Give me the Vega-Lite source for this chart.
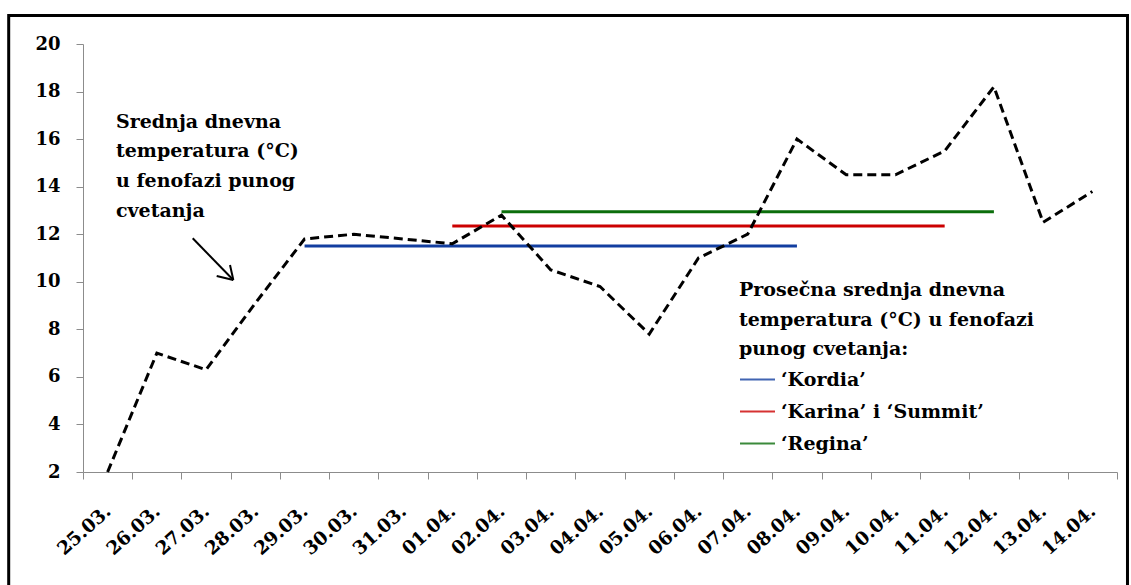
{
  "$schema": "https://vega.github.io/schema/vega-lite/v6.json",
  "width": 1034,
  "height": 428,
  "autosize": {"type": "none"},
  "padding": {"left": 83, "top": 44, "right": 14, "bottom": 113},
  "background": "white",
  "config": {"view": {"stroke": null}, "font": "DejaVu Serif"},
  "datasets": {
    "temp": [
      {"date": "25.03.", "t": 2.0},
      {"date": "26.03.", "t": 7.0},
      {"date": "27.03.", "t": 6.3},
      {"date": "28.03.", "t": 9.1},
      {"date": "29.03.", "t": 11.8},
      {"date": "30.03.", "t": 12.0},
      {"date": "31.03.", "t": 11.8},
      {"date": "01.04.", "t": 11.6},
      {"date": "02.04.", "t": 12.8},
      {"date": "03.04.", "t": 10.5},
      {"date": "04.04.", "t": 9.8},
      {"date": "05.04.", "t": 7.8},
      {"date": "06.04.", "t": 11.0},
      {"date": "07.04.", "t": 12.0},
      {"date": "08.04.", "t": 16.0},
      {"date": "09.04.", "t": 14.5},
      {"date": "10.04.", "t": 14.5},
      {"date": "11.04.", "t": 15.5},
      {"date": "12.04.", "t": 18.2},
      {"date": "13.04.", "t": 12.5},
      {"date": "14.04.", "t": 13.8}
    ],
    "avg": [
      {"cultivar": "‘Kordia’", "date": "29.03.", "value": 11.5},
      {"cultivar": "‘Kordia’", "date": "08.04.", "value": 11.5},
      {"cultivar": "‘Karina’ i ‘Summit’", "date": "01.04.", "value": 12.35},
      {"cultivar": "‘Karina’ i ‘Summit’", "date": "11.04.", "value": 12.35},
      {"cultivar": "‘Regina’", "date": "02.04.", "value": 12.95},
      {"cultivar": "‘Regina’", "date": "12.04.", "value": 12.95}
    ],
    "frame": [{"x": -1.509, "x2": 21.213, "y": 21.2, "y2": -3.5}],
    "arrow": [
      {"x": 2.228, "y": 11.829, "x2": 3.053, "y2": 10.075},
      {"x": 2.715, "y": 10.243, "x2": 3.053, "y2": 10.075},
      {"x": 2.986, "y": 10.706, "x2": 3.053, "y2": 10.075}
    ],
    "notes": [
      {"x": 0.67, "y": 16.48, "label": "Srednja dnevna\ntemperatura (°C)\nu fenofazi punog\ncvetanja"}
    ]
  },
  "layer": [
    {
      "layer": [
        {
          "data": {"name": "avg"},
          "mark": {"type": "line", "strokeWidth": 3},
          "encoding": {
            "x": {
              "field": "date",
              "type": "ordinal",
              "bandPosition": 0.5,
              "title": null,
              "scale": {
                "type": "band",
                "paddingInner": 0,
                "paddingOuter": 0,
                "domain": ["25.03.", "26.03.", "27.03.", "28.03.", "29.03.", "30.03.", "31.03.", "01.04.", "02.04.", "03.04.", "04.04.", "05.04.", "06.04.", "07.04.", "08.04.", "09.04.", "10.04.", "11.04.", "12.04.", "13.04.", "14.04."]
              },
              "axis": {
                "tickBand": "extent",
                "domainColor": "#8c8c8c",
                "tickColor": "#8c8c8c",
                "tickSize": 7,
                "labelAngle": -42,
                "labelAlign": "right",
                "labelBaseline": "middle",
                "labelPadding": 29,
                "labelFont": "DejaVu Serif",
                "labelFontSize": 18.5,
                "labelFontWeight": "bold",
                "labelColor": "black",
                "grid": false
              }
            },
            "y": {
              "field": "value",
              "type": "quantitative",
              "title": null,
              "scale": {"domain": [2, 20], "nice": false, "zero": false},
              "axis": {
                "values": [2, 4, 6, 8, 10, 12, 14, 16, 18, 20],
                "domainColor": "#8c8c8c",
                "tickColor": "#8c8c8c",
                "tickSize": 7,
                "labelPadding": 16,
                "labelFont": "DejaVu Serif",
                "labelFontSize": 18,
                "labelFontWeight": "bold",
                "labelColor": "black",
                "grid": false
              }
            },
            "color": {
              "field": "cultivar",
              "type": "nominal",
              "scale": {
                "domain": ["‘Kordia’", "‘Karina’ i ‘Summit’", "‘Regina’"],
                "range": ["#123ea0", "#cc0000", "#0b6e0b"]
              },
              "legend": {
                "orient": "none",
                "legendX": 656,
                "legendY": 237,
                "direction": "vertical",
                "padding": 0,
                "title": ["Prosečna  srednja dnevna", "temperatura (°C) u fenofazi", "punog cvetanja:"],
                "titleFont": "DejaVu Serif",
                "titleFontSize": 19,
                "titleFontWeight": "bold",
                "titleColor": "black",
                "titleLineHeight": 29.5,
                "titleLimit": 500,
                "titlePadding": 2,
                "titleAnchor": "start",
                "titleAlign": "left",
                "labelFont": "DejaVu Serif",
                "labelFontSize": 19,
                "labelFontWeight": "bold",
                "labelColor": "black",
                "labelLimit": 500,
                "labelOffset": 5,
                "symbolType": "stroke",
                "symbolSize": 1225,
                "symbolStrokeWidth": 2,
                "symbolOpacity": 0.8,
                "rowPadding": 3
              }
            }
          }
        },
        {
          "data": {"name": "temp"},
          "mark": {"type": "line", "color": "black", "strokeWidth": 3, "strokeDash": [9, 5]},
          "encoding": {
            "x": {"field": "date", "type": "ordinal", "bandPosition": 0.5},
            "y": {"field": "t", "type": "quantitative"},
            "order": {"value": null}
          }
        }
      ]
    },
    {
      "layer": [
        {
          "data": {"name": "frame"},
          "mark": {"type": "rect", "fillOpacity": 0, "stroke": "black", "strokeWidth": 3},
          "encoding": {
            "x": {"field": "x", "type": "quantitative", "scale": {"domain": [0, 21], "nice": false, "zero": false}, "axis": null},
            "x2": {"field": "x2"},
            "y": {"field": "y", "type": "quantitative", "scale": {"domain": [2, 20], "nice": false, "zero": false}, "axis": null},
            "y2": {"field": "y2"}
          }
        },
        {
          "data": {"name": "arrow"},
          "mark": {"type": "rule", "color": "black", "strokeWidth": 2},
          "encoding": {
            "x": {"field": "x", "type": "quantitative", "scale": {"domain": [0, 21], "nice": false, "zero": false}, "axis": null},
            "x2": {"field": "x2"},
            "y": {"field": "y", "type": "quantitative", "scale": {"domain": [2, 20], "nice": false, "zero": false}, "axis": null},
            "y2": {"field": "y2"}
          }
        },
        {
          "data": {"name": "notes"},
          "mark": {"type": "text", "align": "left", "baseline": "alphabetic", "font": "DejaVu Serif", "fontSize": 19, "fontWeight": "bold", "color": "black", "lineBreak": "\n", "lineHeight": 29.7},
          "encoding": {
            "x": {"field": "x", "type": "quantitative", "scale": {"domain": [0, 21], "nice": false, "zero": false}, "axis": null},
            "y": {"field": "y", "type": "quantitative", "scale": {"domain": [2, 20], "nice": false, "zero": false}, "axis": null},
            "text": {"field": "label"}
          }
        }
      ]
    }
  ],
  "resolve": {"scale": {"x": "independent", "y": "independent"}}
}
